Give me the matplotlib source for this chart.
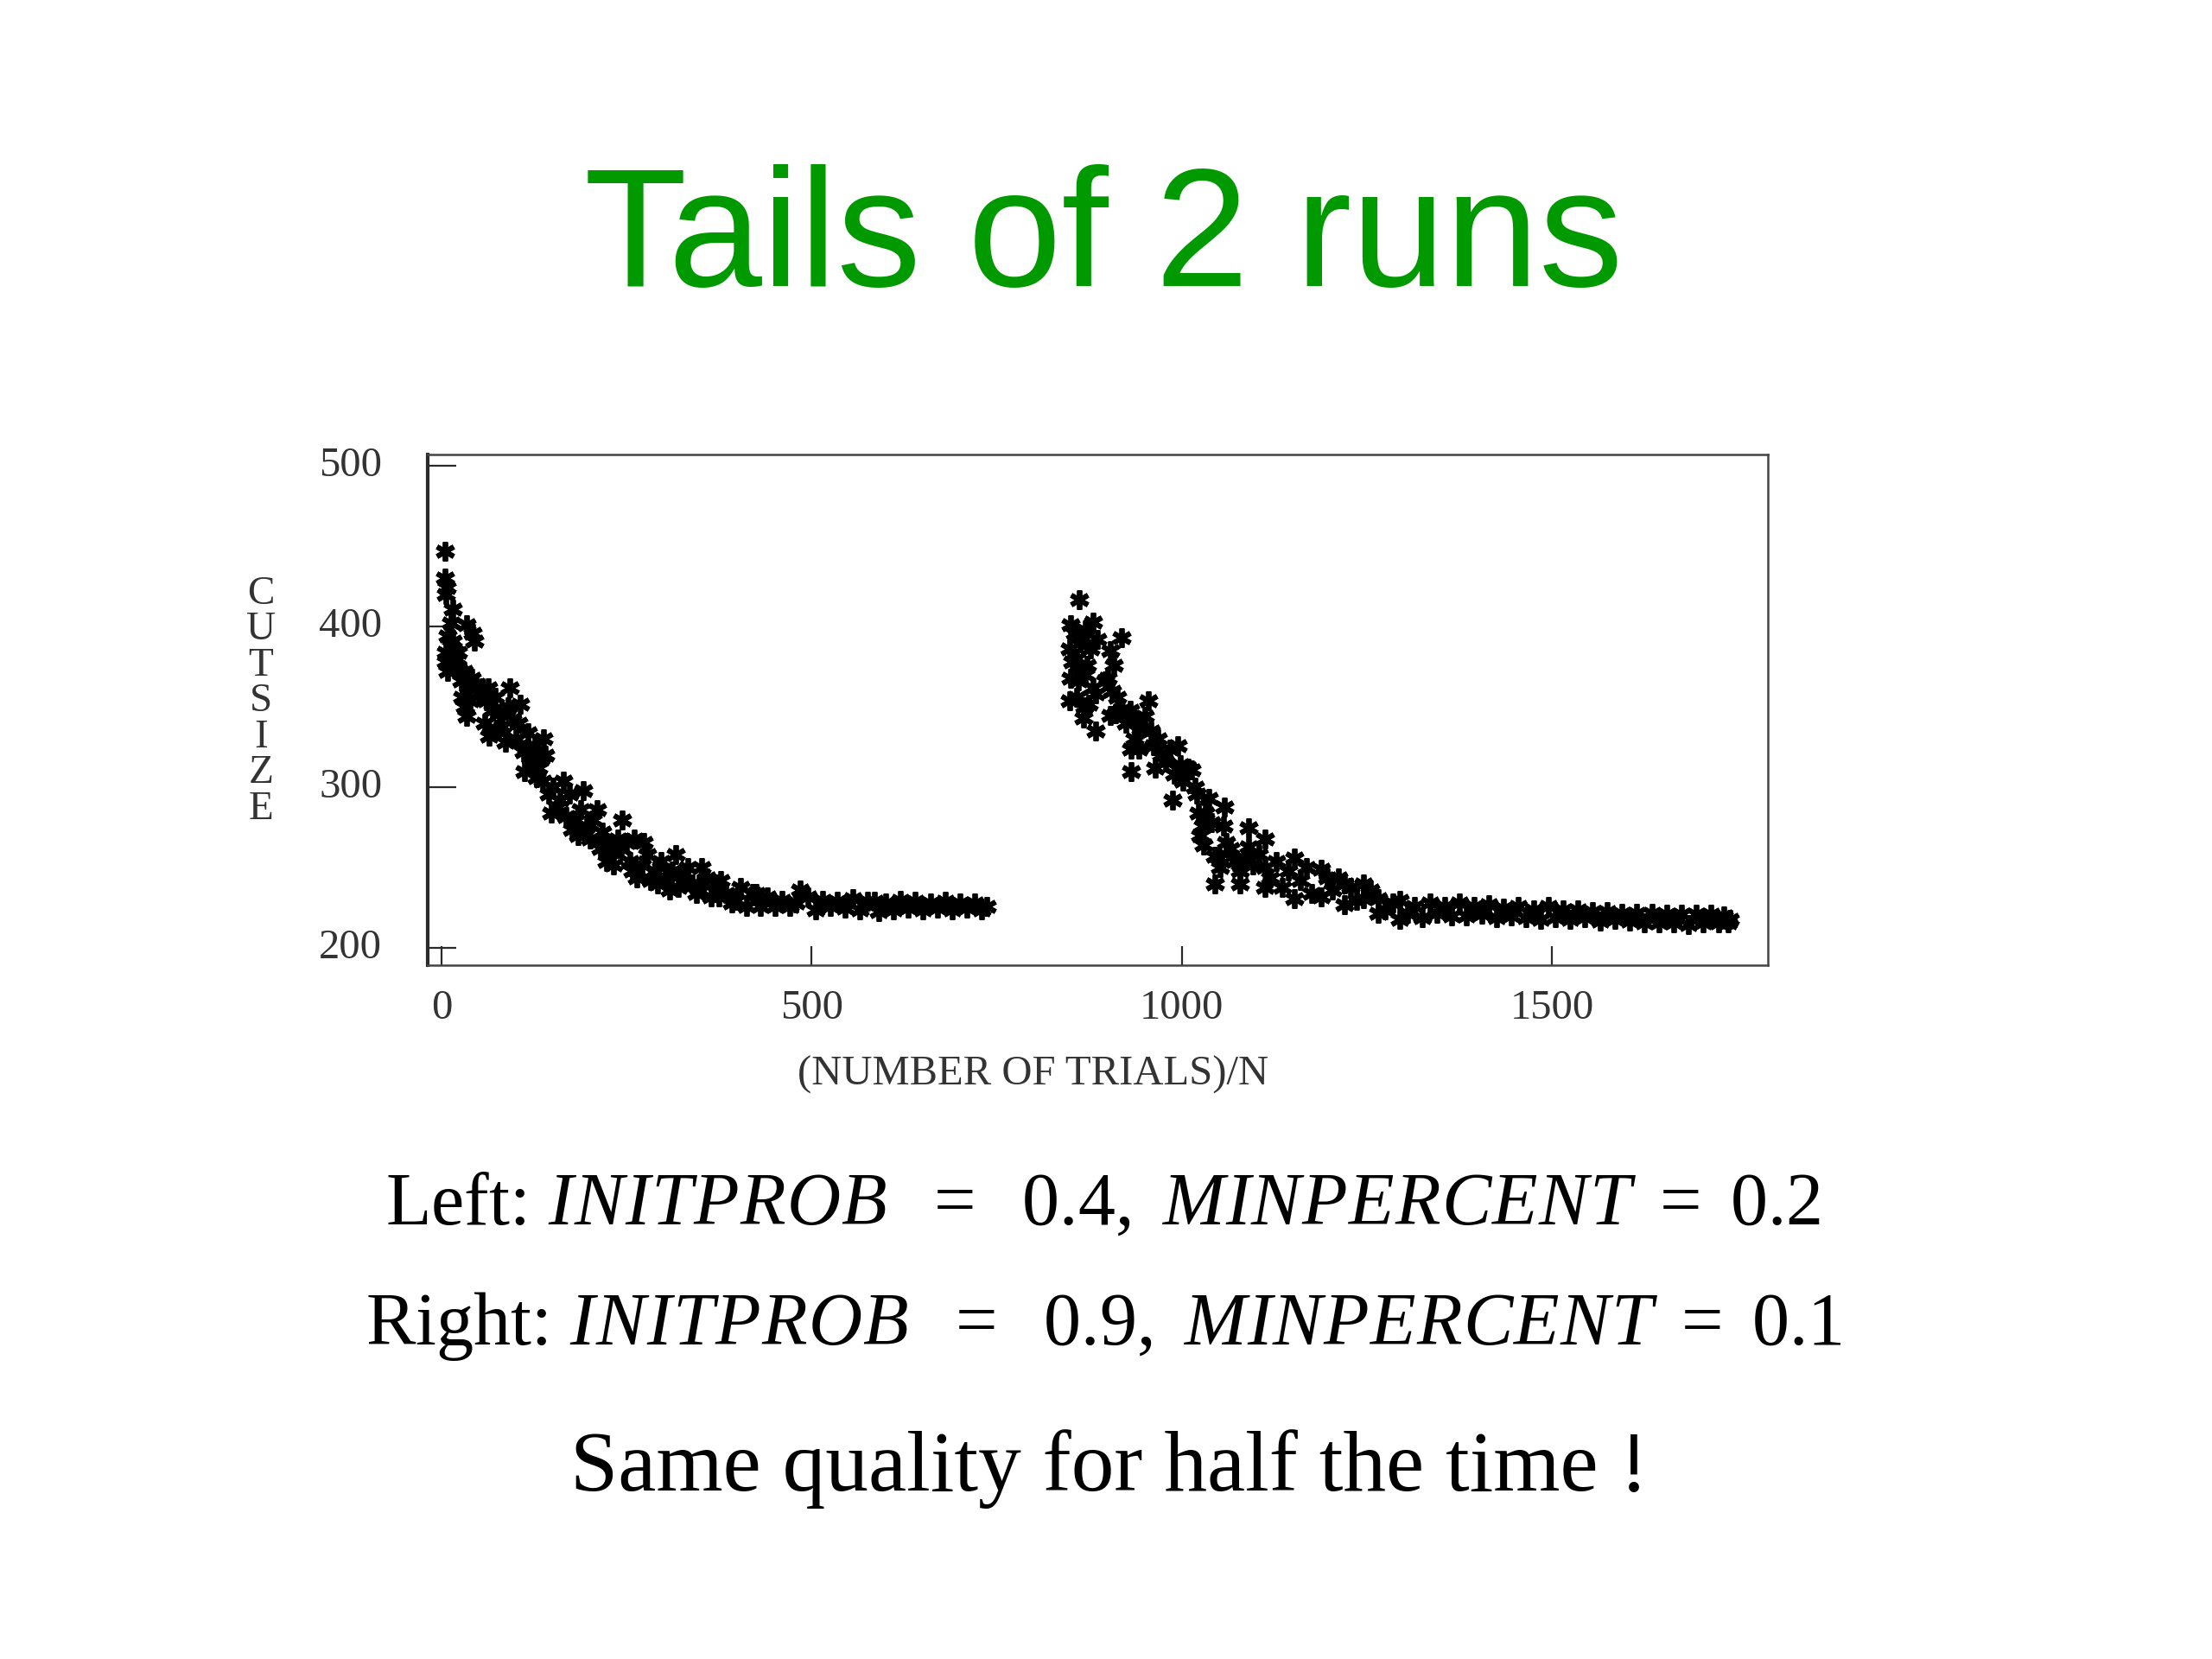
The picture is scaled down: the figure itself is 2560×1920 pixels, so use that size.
import matplotlib
matplotlib.use('Agg')
import matplotlib.pyplot as plt
from matplotlib.transforms import ScaledTranslation

plt.rcParams['mathtext.fontset'] = 'custom'
plt.rcParams['mathtext.rm'] = 'Liberation Serif'
plt.rcParams['mathtext.it'] = 'Liberation Serif:italic'

title = 'Tails of 2 runs'
xlabel = '(NUMBER OF TRIALS)/N'
ylabel = 'CUTSIZE'
xticks = [0, 500, 1000, 1500]
yticks = [200, 300, 400, 500]
line_end = 'Same quality for half the time !'

def spaced(word):
    # the slide font sets these capitals a bit wider than mathtext does
    return r'\mathit{' + r'\hspace{0.02}'.join(word) + '}'

line_left = r'Left: $' + spaced('INITPROB') + r'\ \ =\ \ 0.4,\ ' + spaced('MINPERCENT') + r'\ =\ 0.2$'
line_right = r'Right: $' + spaced('INITPROB') + r'\ \ =\ \ 0.9,\ ' + spaced('MINPERCENT') + r'\ =\ 0.1$'

# left run
left_x = [4, 4, 5, 7, 15, 12, 34, 44, 42, 8, 12, 15, 18, 10, 14, 20, 24, 5, 8, 6, 22, 26,
          30, 36, 28, 40, 46, 50, 55, 31, 33, 38, 60, 63, 68, 72, 58, 64, 78, 82, 92, 90,
          96, 106, 104, 86, 74, 100, 111, 116, 120, 126, 138, 134, 140, 128, 122, 114,
          112, 130, 136, 144, 150, 156, 164, 160, 168, 172, 148, 176, 180, 184, 191, 188,
          196, 200, 204, 210, 217, 214, 223, 220, 228, 232, 238, 244, 242, 250, 254, 258,
          260, 264, 273, 270, 278, 282, 288, 292, 296, 302, 308, 316, 312, 320, 326, 332,
          338, 344, 351, 348, 358, 364, 370, 377, 374, 384, 392, 404, 398, 412, 420, 431,
          425, 440, 450, 460, 470, 484, 478, 495, 505, 515, 525, 535, 545, 555, 565, 575,
          591, 585, 600, 610, 620, 630, 640, 650, 660, 670, 680, 690, 700, 710, 720, 730, 737]
left_y = [447, 430, 420, 424, 411, 402, 401, 391, 396, 394, 388, 391, 384, 380, 376, 380, 372, 378,
          372, 384, 384, 366, 372, 362, 356, 368, 364, 358, 362, 350, 344, 354, 354, 362, 348, 356,
          340, 332, 346, 338, 362, 350, 342, 352, 340, 328, 336, 330, 322, 334, 318, 326, 330, 318,
          320, 306, 314, 324, 310, 312, 304, 296, 300, 288, 304, 292, 282, 296, 284, 274, 280, 270,
          298, 286, 276, 268, 280, 286, 272, 262, 254, 266, 260, 252, 268, 280, 262, 266, 254, 248,
          268, 244, 266, 252, 258, 242, 248, 240, 254, 244, 236, 258, 248, 238, 246, 250, 240, 234,
          250, 240, 244, 232, 240, 242, 232, 234, 228, 238, 230, 226, 234, 226, 234, 232, 226, 230,
          226, 236, 228, 232, 224, 230, 226, 229, 225, 231, 224, 229, 223, 229, 228, 224, 230, 225,
          229, 224, 228, 225, 229, 224, 228, 225, 228, 224, 226]

# right run
right_x = [861, 850, 856, 862, 870, 880, 886, 848, 858, 866, 876, 919, 852, 862, 872, 850, 860, 870,
           880, 849, 858, 868, 884, 867, 884, 874, 896, 903, 908, 900, 906, 913, 910, 903, 918, 924,
           930, 955, 950, 944, 938, 932, 932, 936, 942, 958, 962, 968, 972, 964, 978, 984, 990, 994,
           998, 987, 1002, 1008, 1013, 1018, 1020, 1036, 1032, 1028, 1023, 1025, 1030, 1040, 1058,
           1056, 1060, 1050, 1045, 1045, 1052, 1066, 1072, 1078, 1078, 1084, 1090, 1090, 1096, 1104,
           1113, 1113, 1112, 1120, 1128, 1136, 1144, 1152, 1152, 1160, 1168, 1176, 1188, 1188, 1196,
           1204, 1212, 1220, 1220, 1228, 1236, 1246, 1246, 1255, 1265, 1265, 1275, 1285, 1295, 1295,
           1305, 1315, 1325, 1335, 1345, 1355, 1365, 1375, 1385, 1395, 1405, 1415, 1425, 1435, 1445,
           1455, 1465, 1475, 1485, 1495, 1505, 1515, 1525, 1535, 1545, 1555, 1565, 1575, 1585, 1595,
           1605, 1615, 1625, 1635, 1645, 1655, 1665, 1675, 1685, 1695, 1705, 1715, 1725, 1732, 1738, 1741]
right_y = [417, 401, 396, 390, 398, 403, 392, 386, 380, 392, 386, 393, 378, 372, 376, 368, 366, 370,
           362, 354, 356, 350, 358, 343, 335, 352, 366, 385, 376, 368, 360, 356, 346, 345, 348, 340,
           348, 354, 344, 336, 342, 324, 310, 330, 324, 335, 326, 330, 320, 312, 316, 324, 308, 326,
           314, 292, 304, 312, 311, 300, 296, 293, 284, 276, 284, 270, 264, 278, 288, 276, 266, 256,
           240, 257, 250, 262, 254, 248, 240, 256, 275, 263, 252, 258, 268, 238, 250, 244, 254, 238,
           248, 231, 256, 242, 250, 234, 249, 232, 244, 236, 244, 240, 227, 238, 230, 240, 231, 236,
           222, 231, 224, 228, 218, 230, 222, 226, 219, 228, 222, 226, 220, 228, 220, 226, 221, 227, 219,
           225, 220, 226, 219, 224, 218, 226, 219, 224, 218, 224, 219, 223, 217, 223, 218, 222, 217, 222,
           216, 222, 216, 221, 216, 221, 215, 221, 216, 221, 216, 220, 216, 218]

dark = '#2a2a2a'
fig = plt.figure(figsize=(25.6, 19.2), dpi=100)
ax = fig.add_axes([495 / 2560, 1 - 1117 / 1920, 1551 / 2560, 591 / 1920])

ax.plot(left_x, left_y, ls='none', marker=(6, 2, 0), ms=16, mew=4.2, color='black')
ax.plot(right_x, right_y, ls='none', marker=(6, 2, 0), ms=16, mew=4.2, color='black')

ax.set_xlim(-19, 1792)
ax.set_ylim(189.5, 507)
ax.set_xticks(xticks)
ax.set_yticks(yticks)
ax.tick_params(axis='x', direction='in', length=16, width=1.6, color=dark, pad=20)
ax.tick_params(axis='y', direction='in', length=24, width=1.6, color=dark, pad=38)
for lab in ax.get_xticklabels() + ax.get_yticklabels():
    lab.set_family('Liberation Serif')
    lab.set_fontsize(35)
    lab.set_color('#333333')
# labels sit a little above their ticks in the scan
for lab in ax.get_yticklabels():
    lab.set_transform(lab.get_transform() + ScaledTranslation(0, 0.05, fig.dpi_scale_trans))
for side in ['top', 'right', 'bottom']:
    ax.spines[side].set_linewidth(1.8)
    ax.spines[side].set_color('#444444')
ax.spines['left'].set_linewidth(3)
ax.spines['left'].set_color(dark)

ax.set_xlabel(xlabel, family='Liberation Serif', fontsize=35, color='#333333')
ax.xaxis.set_label_coords(0.452, -0.178)
fig.text(302 / 2560, 1 - 812 / 1920, '\n'.join(ylabel), family='Liberation Serif', fontsize=34,
         color='#333333', ha='center', va='center', linespacing=0.97)

fig.text(1277 / 2560, 1 - 331 / 1920, title, family='Liberation Sans', fontsize=140.4,
         color='#009a00', ha='center', va='baseline')
fig.text(1277 / 2560, 1 - 1417 / 1920, line_left, family='Liberation Serif', fontsize=62,
         color='black', ha='center', va='baseline')
fig.text(1277 / 2560, 1 - 1556 / 1920, line_right, family='Liberation Serif', fontsize=62,
         color='black', ha='center', va='baseline')
fig.text(1284 / 2560, 1 - 1725 / 1920, line_end, family='Liberation Serif', fontsize=71.6,
         color='black', ha='center', va='baseline')

fig.savefig('out.png', dpi=100)
